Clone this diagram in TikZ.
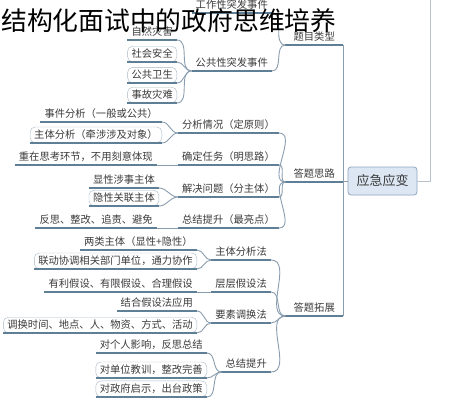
\documentclass[tikz,border=0pt]{standalone}
\usepackage{fontspec}
\setmainfont{Noto Sans CJK SC}
\definecolor{txt}{HTML}{3A3A3A}
\definecolor{lnc}{HTML}{5F7F96}
\definecolor{cnc}{HTML}{8A9DAE}
\definecolor{boxc}{HTML}{A9B7C4}
\definecolor{rootf}{HTML}{DCE7F3}
\definecolor{rootd}{HTML}{8FA6BE}
\definecolor{sidec}{HTML}{B8C2CC}

\begin{document}
\begin{tikzpicture}[x=1pt,y=-1pt,
  item/.style={anchor=south east, inner xsep=4pt, inner ysep=3pt,
    font=\fontsize{10.3}{12}\selectfont, text=txt,
    append after command={(\tikzlastnode.south west) edge[draw=lnc, line width=1.1pt] (\tikzlastnode.south east)}},
  boxed/.style={item, draw=boxc, rounded corners=5pt},
  root/.style={draw=rootd, fill=rootf, rounded corners=3pt, line width=0.8pt,
    minimum width=69pt, minimum height=28pt, font=\fontsize{13}{15}\selectfont, text=txt},
  conn/.style={draw=cnc, line width=0.9pt}]

\useasboundingbox (0,0) rectangle (453,400);

% root
\node[root] (root) at (382.5,181) {应急应变};
\coordinate (topr) at (430,0);

% first level
\node[item, inner xsep=8pt] (tmlx) at (343,45) {题目类型};
\node[item, inner xsep=8pt] (dtsl) at (343,182) {答题思路};
\node[item, inner xsep=8pt] (dttz) at (343,316) {答题拓展};

% question types
\node[item] (gzx) at (272,13) {工作性突发事件};
\node[item] (ggx) at (272,71) {公共性突发事件};
\node[item] (zrzh) at (177,40) {自然灾害};
\node[boxed] (shaq) at (177,62) {社会安全};
\node[boxed] (ggws) at (177,83) {公共卫生};
\node[boxed] (sgzn) at (177,103) {事故灾难};

% answer ideas
\node[item] (fxqk) at (279,133) {分析情况（定原则）};
\node[item] (qdrw) at (279,165) {确定任务（明思路）};
\node[item] (jjwt) at (279,197) {解决问题（分主体）};
\node[item] (zjts) at (279,228) {总结提升（最亮点）};
\node[item] (sjfx) at (162,122) {事件分析（一般或公共）};
\node[boxed] (ztfx) at (162,143) {主体分析（牵涉涉及对象）};
\node[item] (zzsk) at (157,165) {重在思考环节，不用刻意体现};
\node[item] (xxzt) at (159,188) {显性涉事主体};
\node[boxed] (yxgl) at (159,206) {隐性关联主体};
\node[item] (fszg) at (157,228) {反思、整改、追责、避免};

% answer extension
\node[item] (ztff) at (271,260) {主体分析法};
\node[item] (ccjs) at (271,292) {层层假设法};
\node[item] (ysdh) at (271,323) {要素调换法};
\node[item] (zjtf) at (271,372) {总结提升};
\node[item] (llzt) at (197,250) {两类主体（显性+隐性）};
\node[boxed] (ldxt) at (197,269) {联动协调相关部门单位，通力协作};
\node[item] (ylja) at (197,292) {有利假设、有限假设、合理假设};
\node[item] (jhjs) at (197,311) {结合假设法应用};
\node[boxed] (dhsj) at (197,333) {调换时间、地点、人、物资、方式、活动};
\node[item] (dgr) at (207,353) {对个人影响，反思总结};
\node[boxed] (ddw) at (207,378) {对单位教训，整改完善};
\node[boxed] (dzf) at (207,397) {对政府启示，出台政策};

% connectors
\draw[conn] (root.west) -| (tmlx.south east);
\draw[conn] (root.west) -| (dtsl.south east);
\draw[conn] (root.west) -| (dttz.south east);
\draw[draw=sidec, line width=0.9pt] (root.east) -| (topr);

\draw[conn] (tmlx.south west) to[out=180,in=0] (gzx.south east);
\draw[conn] (tmlx.south west) to[out=180,in=0] (ggx.south east);
\draw[conn] (ggx.south west) to[out=180,in=0] (zrzh.south east);
\draw[conn] (ggx.south west) to[out=180,in=0] (shaq.south east);
\draw[conn] (ggx.south west) to[out=180,in=0] (ggws.south east);
\draw[conn] (ggx.south west) to[out=180,in=0] (sgzn.south east);

\draw[conn] (dtsl.south west) to[out=180,in=0] (fxqk.south east);
\draw[conn] (dtsl.south west) to[out=180,in=0] (qdrw.south east);
\draw[conn] (dtsl.south west) to[out=180,in=0] (jjwt.south east);
\draw[conn] (dtsl.south west) to[out=180,in=0] (zjts.south east);
\draw[conn] (fxqk.south west) to[out=180,in=0] (sjfx.south east);
\draw[conn] (fxqk.south west) to[out=180,in=0] (ztfx.south east);
\draw[conn] (qdrw.south west) -- (zzsk.south east);
\draw[conn] (jjwt.south west) to[out=180,in=0] (xxzt.south east);
\draw[conn] (jjwt.south west) to[out=180,in=0] (yxgl.south east);
\draw[conn] (zjts.south west) -- (fszg.south east);

\draw[conn] (dttz.south west) to[out=180,in=0] (ztff.south east);
\draw[conn] (dttz.south west) to[out=180,in=0] (ccjs.south east);
\draw[conn] (dttz.south west) to[out=180,in=0] (ysdh.south east);
\draw[conn] (dttz.south west) to[out=180,in=0] (zjtf.south east);
\draw[conn] (ztff.south west) to[out=180,in=0] (llzt.south east);
\draw[conn] (ztff.south west) to[out=180,in=0] (ldxt.south east);
\draw[conn] (ccjs.south west) -- (ylja.south east);
\draw[conn] (ysdh.south west) to[out=180,in=0] (jhjs.south east);
\draw[conn] (ysdh.south west) to[out=180,in=0] (dhsj.south east);
\draw[conn] (zjtf.south west) to[out=180,in=0] (dgr.south east);
\draw[conn] (zjtf.south west) to[out=180,in=0] (ddw.south east);
\draw[conn] (zjtf.south west) to[out=180,in=0] (dzf.south east);

% title on top
\node[anchor=west, inner sep=0pt, font=\fontsize{25.8}{30}\selectfont] (title) at (1,21) {结构化面试中的政府思维培养};

\end{tikzpicture}
\end{document}
